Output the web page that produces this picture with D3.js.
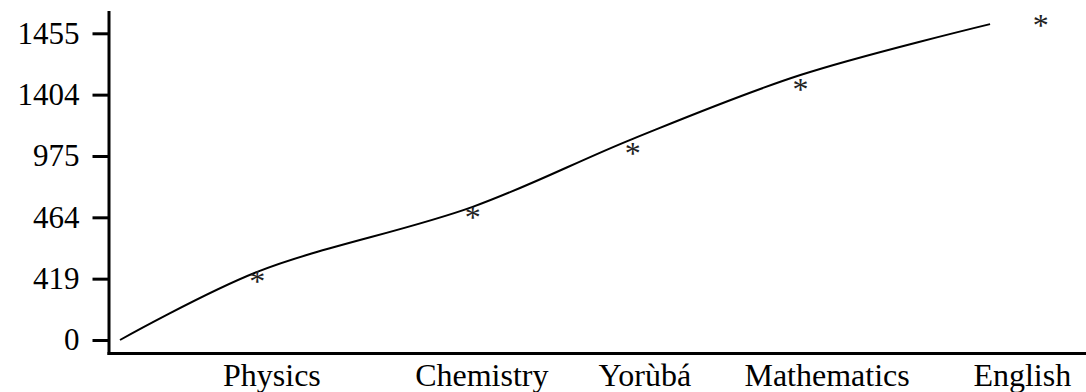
<!DOCTYPE html>
<html>
<head>
<meta charset="utf-8">
<script src="https://cdn.jsdelivr.net/npm/d3@7"></script>
<style>
  body { margin: 0; background: #fff; }
  svg { display: block; font-family: "Liberation Serif", "Times New Roman", serif; }
</style>
</head>
<body>
<svg id="chart" width="1086" height="392"></svg>
<script>
// Subjects and their scores
const subjects = ["Physics", "Chemistry", "Yorùbá", "Mathematics", "English"]
const scores = [419, 464, 975, 1404, 1455]
const scoreTicks = [0, 419, 464, 975, 1404, 1455]

// where each subject sits on the unlabelled horizontal scale (0-10)
const subjectPos = [1.49, 3.83, 5.57, 7.39, 10]
const labelPos = [1.65, 3.93, 5.70, 7.68, 9.80]

// smoothed trend line (position, score rank)
const trendPos = [0, 1.49, 3.83, 5.57, 7.39, 9.45]
const trendRank = [0, 1.11, 2.17, 3.28, 4.32, 5.15]

const svg = d3.select("#chart")
const width = 1086, height = 392

const x = d3.scaleLinear().domain([0, 10]).range([120, 1040.7])
// tick labels are spread evenly, one per score
const yRank = d3.scaleLinear().domain([0, scoreTicks.length - 1]).range([340, 33.3])
// the markers sit on a slightly taller spacing than the ticks
const yMark = d3.scalePoint().domain(scoreTicks).range([340.7, 20.7])

const axisX = 109
const baseY = 353.5

// Y axis ticks
const yAxis = d3.axisLeft(yRank)
  .tickValues(d3.range(scoreTicks.length))
  .tickFormat(i => scoreTicks[i])
  .tickSize(16)
  .tickPadding(13)

const gy = svg.append("g")
  .attr("transform", `translate(${axisX - 0.5}, 0)`)
  .call(yAxis)

gy.select(".domain").remove()
gy.selectAll(".tick line")
  .style("stroke", "#000")
  .style("stroke-width", 3)
gy.selectAll("text")
  .style("font-family", "Liberation Serif, serif")
  .style("font-size", "31px")
  .style("fill", "#000")

// axis lines
svg.append("line")
  .attr("x1", axisX).attr("x2", axisX)
  .attr("y1", 11).attr("y2", baseY + 1.5)
  .style("stroke", "#000")
  .style("stroke-width", 3)

svg.append("line")
  .attr("x1", axisX - 1.5).attr("x2", width)
  .attr("y1", baseY).attr("y2", baseY)
  .style("stroke", "#000")
  .style("stroke-width", 3)

// category labels
svg.selectAll(".cat-label")
  .data(subjects)
  .enter()
  .append("text")
  .attr("class", "cat-label")
  .attr("x", (d, i) => x(labelPos[i]))
  .attr("y", 386)
  .attr("text-anchor", "middle")
  .style("font-size", "32px")
  .style("fill", "#000")
  .text(d => d)

// trend line
const trend = trendPos.map((p, i) => [p, trendRank[i]])
const line = d3.line()
  .x(d => x(d[0]))
  .y(d => yRank(d[1]))
  .curve(d3.curveCatmullRom.alpha(0.5))

svg.append("path")
  .datum(trend)
  .attr("d", line)
  .style("fill", "none")
  .style("stroke", "#000")
  .style("stroke-width", 2)

// asterisk markers
svg.selectAll(".mark")
  .data(scores)
  .enter()
  .append("text")
  .attr("class", "mark")
  .attr("x", (d, i) => x(subjectPos[i]))
  .attr("y", d => yMark(d) + 15)
  .attr("text-anchor", "middle")
  .style("font-size", "32px")
  .style("fill", "#222")
  .text("*")
</script>
</body>
</html>
